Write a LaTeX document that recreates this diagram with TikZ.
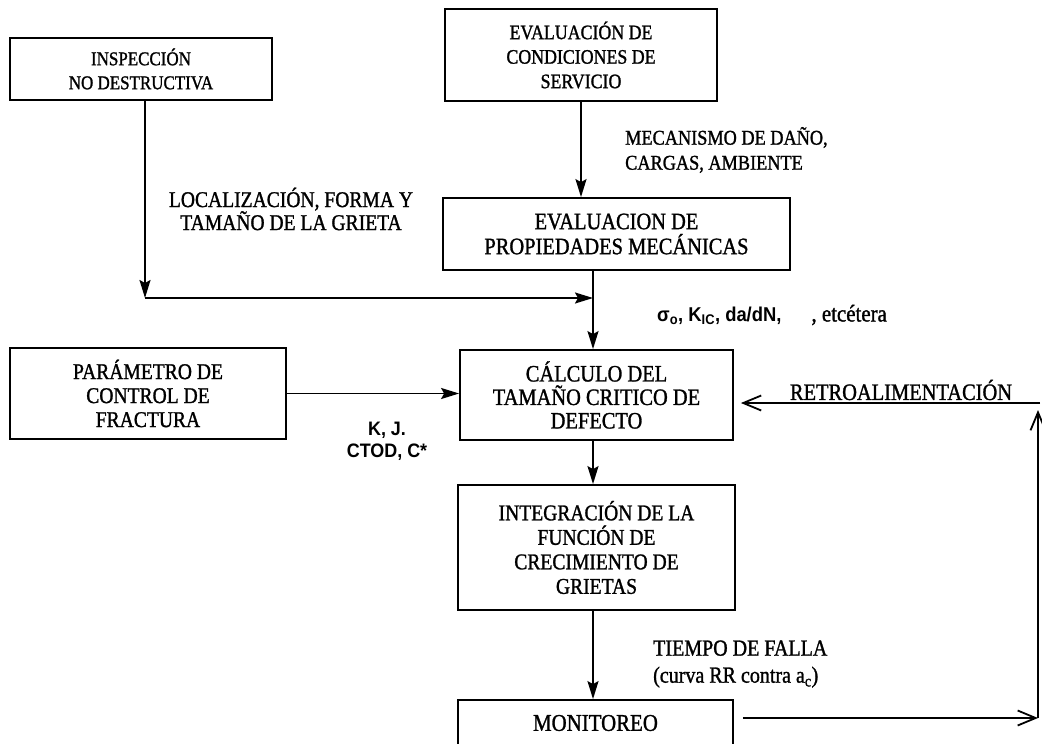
\documentclass[tikz,border=0pt]{standalone}
\usepackage{fontspec}
\setmainfont{Liberation Serif}[FakeStretch=0.87, FakeBold=1.2]
\setsansfont{Liberation Sans}[FakeStretch=0.92]
\usetikzlibrary{arrows.meta}
\newcommand{\fsz}[2]{\fontsize{#1}{#2}\selectfont}
\begin{document}
\begin{tikzpicture}[x=1pt,y=-1pt,
  box/.style={draw, line width=1.8pt, align=center, inner sep=0pt},
  lbl/.style={align=center, inner sep=0pt},
  arr/.style={line width=1.8pt, -{Stealth[length=18pt,width=11pt,inset=3pt]}},
  oarr/.style={line width=1.8pt, -{Straight Barb[length=18pt,width=15pt]}}]
\useasboundingbox (0,0) rectangle (1042,744);
\clip (0,0) rectangle (1042,744);
\fill[white] (0,0) rectangle (1042,744);

% boxes
\node[box, minimum width=262, minimum height=62, font=\fsz{19.5}{24}] (insp) at (141,69) {INSPECCIÓN\\NO DESTRUCTIVA};
\node[box, minimum width=272, minimum height=92, font=\fsz{20.5}{24.5}] (serv) at (581,55) {EVALUACIÓN DE\\CONDICIONES DE\\SERVICIO};
\node[box, minimum width=347, minimum height=72, font=\fsz{23.5}{25}] (prop) at (616.5,234) {EVALUACION DE\\PROPIEDADES MECÁNICAS};
\node[box, minimum width=276, minimum height=91, font=\fsz{22.5}{24}] (param) at (148,393.5) {PARÁMETRO DE\\CONTROL DE\\FRACTURA};
\node[box, minimum width=273, minimum height=90, font=\fsz{23.5}{23.5}] (calc) at (596.5,395) {CÁLCULO DEL\\TAMAÑO CRITICO DE\\DEFECTO};
\node[box, minimum width=277, minimum height=125, font=\fsz{22.5}{24.5}] (integ) at (596.5,547.5) {INTEGRACIÓN DE LA\\FUNCIÓN DE\\CRECIMIENTO DE\\GRIETAS};
\node[box, minimum width=275, minimum height=46, font=\fsz{24}{25}] (monit) at (595.5,723) {MONITOREO};

% labels
\node[lbl, font=\fsz{22.5}{23}] (loc) at (291,209) {LOCALIZACIÓN, FORMA Y\\TAMAÑO DE LA GRIETA};
\node[lbl, align=left, anchor=west, font=\fsz{21}{25}] (mec) at (625,150) {MECANISMO DE DAÑO,\\CARGAS, AMBIENTE};
\node[lbl, anchor=west, font=\fsz{24}{22}] (prm) at (657,315) {{\sffamily\bfseries\fsz{20}{22}σ\textsubscript{o}, K\textsubscript{IC}, da/dN,}\hspace{30pt}, etcétera};
\node[lbl, font=\sffamily\bfseries\fsz{19.5}{22}] (kj) at (387,441) {K, J.\\CTOD, C*};
\node[lbl, font=\fsz{23.5}{24}] (retro) at (901,390) {RETROALIMENTACIÓN};
\node[lbl, align=left, anchor=west, font=\fsz{23}{27}] (tiempo) at (653,664) {TIEMPO DE FALLA\\(curva RR contra a\textsubscript{c})};

% connectors
\coordinate (j) at (593,298);
\coordinate (lc) at (145,298);
\draw[arr] ([xshift=4pt]insp.south) -- (lc);
\draw[arr] (lc) -- (j);
\draw[arr] (serv.south) -- (serv.south |- prop.north);
\draw[line width=1.8pt] (prop.south -| j) -- (j);
\draw[arr] (j) -- (calc.north -| j);
\draw[arr] (param.east) -- (param.east -| calc.west);
\draw[arr] (calc.south -| j) -- (integ.north -| j);
\draw[arr] (integ.south -| j) -- (monit.north -| j);

% feedback loop
\coordinate (c1) at (1038,718);
\coordinate (c2) at (1038,410);
\coordinate (c3) at (1040,403);
\draw[oarr, shorten <=9pt] (monit.east |- c1) -- (c1);
\draw[oarr] (c1) -- (c2);
\draw[oarr, shorten >=7pt] (c3) -- (calc.east |- c3);
\end{tikzpicture}
\end{document}
